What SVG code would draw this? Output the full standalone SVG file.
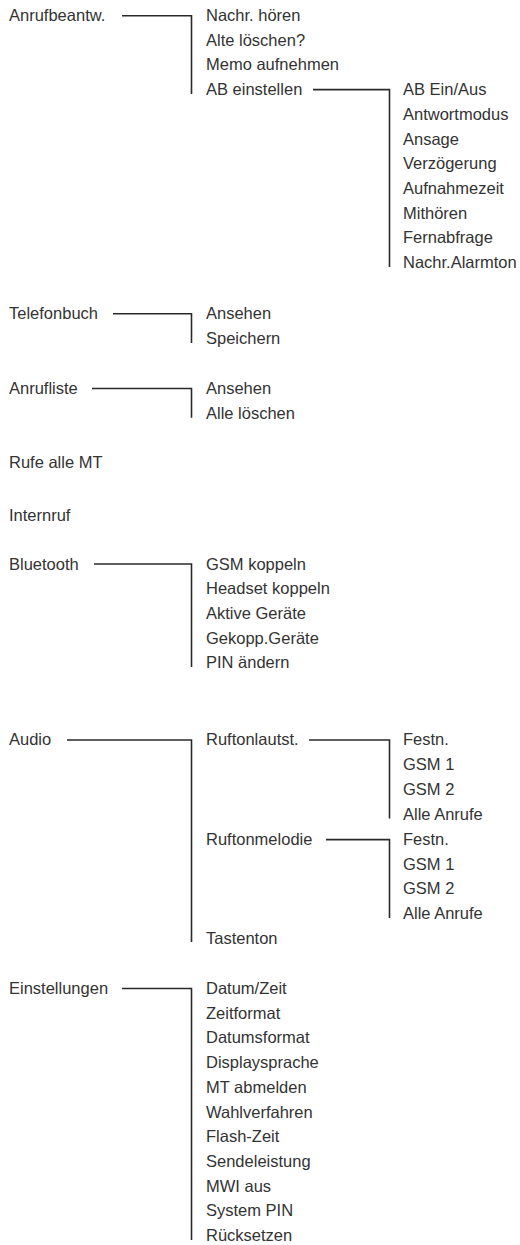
<svg xmlns="http://www.w3.org/2000/svg" width="520" height="1245" viewBox="0 0 520 1245">
<style>
text{font-family:"Liberation Sans",Arial,sans-serif;font-size:16.5px;fill:#333}
.c{fill:none;stroke:#2a2a2a;stroke-width:1.6}
</style>
<rect width="520" height="1245" fill="#fff"/>
<g id="connectors">
<path class="c" d="M122 15.7H191.5V94"/>
<path class="c" d="M313 89.6H389.5V267"/>
<path class="c" d="M113 313.8H191.5V343"/>
<path class="c" d="M92 388.5H191.5V417.7"/>
<path class="c" d="M94 564H191.5V667"/>
<path class="c" d="M67 740H191.5V942"/>
<path class="c" d="M309 740H389.5V818.5"/>
<path class="c" d="M326 839.6H389.5V918"/>
<path class="c" d="M122 988.5H191.5V1240"/>
</g>
<g id="anrufbeantw">
<text x="9" y="21">Anrufbeantw.</text>
<text x="206" y="21">Nachr. hören</text>
<text x="206" y="45.7">Alte löschen?</text>
<text x="206" y="70.4">Memo aufnehmen</text>
</g>
<g id="ab-einstellen">
<text x="206" y="95.1">AB einstellen</text>
<text x="403" y="95.1">AB Ein/Aus</text>
<text x="403" y="119.8">Antwortmodus</text>
<text x="403" y="144.5">Ansage</text>
<text x="403" y="169.2">Verzögerung</text>
<text x="403" y="193.9">Aufnahmezeit</text>
<text x="403" y="218.6">Mithören</text>
<text x="403" y="243.3">Fernabfrage</text>
<text x="403" y="268">Nachr.Alarmton</text>
</g>
<g id="telefonbuch">
<text x="9" y="319.3">Telefonbuch</text>
<text x="206" y="319.3">Ansehen</text>
<text x="206" y="344">Speichern</text>
</g>
<g id="anrufliste">
<text x="9" y="394">Anrufliste</text>
<text x="206" y="394">Ansehen</text>
<text x="206" y="418.7">Alle löschen</text>
</g>
<g id="rufe-alle-mt">
<text x="9" y="467.5">Rufe alle MT</text>
</g>
<g id="internruf">
<text x="9" y="520.5">Internruf</text>
</g>
<g id="bluetooth">
<text x="9" y="569.5">Bluetooth</text>
<text x="206" y="569.5">GSM koppeln</text>
<text x="206" y="594.2">Headset koppeln</text>
<text x="206" y="618.9">Aktive Geräte</text>
<text x="206" y="643.6">Gekopp.Geräte</text>
<text x="206" y="668.3">PIN ändern</text>
</g>
<g id="audio">
<text x="9" y="745">Audio</text>
<text x="206" y="944.2">Tastenton</text>
</g>
<g id="ruftonlautst">
<text x="206" y="745">Ruftonlautst.</text>
<text x="403" y="745">Festn.</text>
<text x="403" y="769.9">GSM 1</text>
<text x="403" y="794.8">GSM 2</text>
<text x="403" y="819.7">Alle Anrufe</text>
</g>
<g id="ruftonmelodie">
<text x="206" y="844.6">Ruftonmelodie</text>
<text x="403" y="844.6">Festn.</text>
<text x="403" y="869.5">GSM 1</text>
<text x="403" y="894.4">GSM 2</text>
<text x="403" y="919.3">Alle Anrufe</text>
</g>
<g id="einstellungen">
<text x="9" y="994">Einstellungen</text>
<text x="206" y="994">Datum/Zeit</text>
<text x="206" y="1018.7">Zeitformat</text>
<text x="206" y="1043.4">Datumsformat</text>
<text x="206" y="1068.1">Displaysprache</text>
<text x="206" y="1092.8">MT abmelden</text>
<text x="206" y="1117.5">Wahlverfahren</text>
<text x="206" y="1142.2">Flash-Zeit</text>
<text x="206" y="1166.9">Sendeleistung</text>
<text x="206" y="1191.6">MWI aus</text>
<text x="206" y="1216.3">System PIN</text>
<text x="206" y="1241">Rücksetzen</text>
</g>
</svg>
